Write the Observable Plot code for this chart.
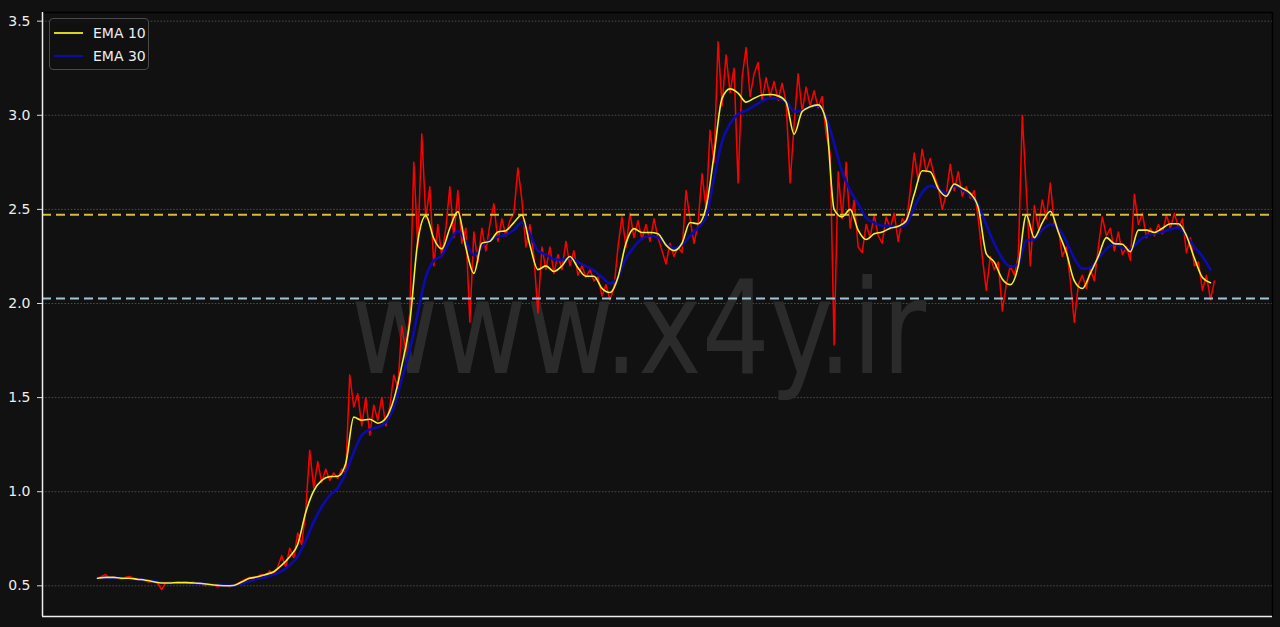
<!DOCTYPE html>
<html>
<head>
<meta charset="utf-8">
<script src="https://cdn.jsdelivr.net/npm/d3@7"></script>
<script src="https://cdn.jsdelivr.net/npm/@observablehq/plot@0.6"></script>
<style>
  html, body { margin: 0; padding: 0; background: #111111; }
  #wrap { position: relative; width: 1280px; height: 627px; overflow: hidden; }
  #legend { position: absolute; left: 49px; top: 18px; width: 100px; height: 52px;
    border: 1px solid #4a4a4a; border-radius: 4px; background: rgba(17,17,17,0.85);
    font-family: "DejaVu Sans", sans-serif; font-size: 14px; color: #eeeeee; box-sizing: border-box; }
  .row { position: absolute; left: 0; height: 20px; display: flex; align-items: center; }
  .sw { display: inline-block; width: 29px; margin-left: 4px; margin-right: 10px; }
</style>
</head>
<body>
<div id="wrap"></div>
<script>
// ---- data ----
// price sampled on an index t = 0..279
const price = [
0.54,0.55,0.56,0.54,0.545,0.54,0.535,0.545,0.55,0.54,
0.53,0.535,0.525,0.52,0.525,0.515,0.48,0.515,0.52,0.515,
0.52,0.515,0.52,0.515,0.52,0.51,0.515,0.50,0.51,0.505,
0.495,0.505,0.5,0.495,0.505,0.51,0.525,0.535,0.545,0.54,
0.55,0.56,0.55,0.58,0.56,0.6,0.66,0.6,0.7,0.65,
0.78,0.72,0.9,1.22,1.02,1.16,1.05,1.12,1.06,1.1,
1.07,1.12,1.1,1.62,1.45,1.52,1.35,1.5,1.3,1.46,
1.38,1.5,1.35,1.45,1.62,1.55,1.88,1.75,1.95,2.75,
2.3,2.9,2.45,2.62,2.2,2.42,2.25,2.4,2.62,2.35,
2.6,2.32,2.4,1.9,2.38,2.22,2.4,2.28,2.42,2.53,
2.33,2.45,2.36,2.44,2.48,2.72,2.55,2.3,2.42,2.25,
1.95,2.3,2.18,2.3,2.16,2.26,2.18,2.33,2.2,2.28,
2.15,2.2,2.14,2.18,2.12,2.14,2.04,2.1,2.02,2.08,
2.3,2.46,2.3,2.48,2.35,2.44,2.34,2.42,2.33,2.45,
2.35,2.28,2.21,2.32,2.25,2.3,2.27,2.6,2.45,2.32,
2.42,2.69,2.5,2.92,2.75,3.39,3.05,3.32,3.12,3.25,
2.64,3.2,3.36,3.1,3.22,3.28,3.08,3.2,3.1,3.18,
3.08,3.17,3.07,2.64,2.95,3.22,3.02,3.15,3.05,3.13,
3.04,3.1,2.9,2.8,1.78,2.7,2.45,2.75,2.4,2.55,
2.3,2.27,2.42,2.35,2.47,2.36,2.32,2.46,2.4,2.48,
2.33,2.45,2.42,2.6,2.8,2.65,2.82,2.7,2.77,2.68,
2.62,2.5,2.58,2.74,2.6,2.7,2.57,2.62,2.56,2.6,
2.45,2.25,2.07,2.25,2.18,2.22,1.96,2.1,2.2,2.15,
2.25,3.0,2.6,2.2,2.52,2.4,2.55,2.45,2.64,2.42,
2.4,2.25,2.3,2.12,1.9,2.1,2.15,2.08,2.18,2.12,
2.3,2.46,2.36,2.4,2.28,2.38,2.26,2.3,2.23,2.58,
2.42,2.48,2.35,2.4,2.36,2.42,2.37,2.47,2.4,2.48,
2.4,2.45,2.27,2.35,2.2,2.22,2.07,2.15,2.02,2.12
];
// EMA series sampled every 2 index steps (t = 0, 2, 4, ...)
const ema10 = [
0.54,0.545,0.545,0.54,0.54,0.535,0.53,0.522,0.515,0.515,
0.517,0.517,0.515,0.512,0.507,0.503,0.5,0.502,0.52,0.54,
0.548,0.56,0.575,0.61,0.655,0.72,0.89,1.005,1.06,1.08,
1.082,1.15,1.396,1.38,1.385,1.364,1.39,1.49,1.67,1.9,
2.33,2.467,2.345,2.29,2.4,2.488,2.297,2.16,2.32,2.33,
2.38,2.387,2.43,2.47,2.31,2.18,2.2,2.17,2.2,2.25,
2.19,2.145,2.145,2.08,2.058,2.138,2.32,2.398,2.377,2.377,
2.37,2.31,2.281,2.32,2.43,2.424,2.51,2.79,3.09,3.14,
3.118,3.07,3.09,3.108,3.11,3.103,3.07,2.9,3.02,3.045,
3.055,2.97,2.5,2.46,2.5,2.39,2.34,2.37,2.38,2.4,
2.41,2.44,2.58,2.705,2.7,2.61,2.57,2.635,2.612,2.585,
2.51,2.265,2.22,2.13,2.1,2.2,2.47,2.35,2.43,2.49,
2.38,2.27,2.12,2.08,2.16,2.25,2.35,2.318,2.315,2.275,
2.39,2.39,2.377,2.4,2.424,2.424,2.36,2.24,2.138,2.11
];
const ema30 = [
0.54,0.542,0.543,0.54,0.538,0.535,0.53,0.525,0.52,0.518,
0.517,0.516,0.514,0.512,0.508,0.505,0.502,0.502,0.51,0.525,
0.537,0.546,0.56,0.578,0.61,0.655,0.74,0.84,0.92,0.98,
1.02,1.1,1.21,1.3,1.33,1.343,1.37,1.449,1.6,1.75,
1.95,2.14,2.228,2.255,2.33,2.385,2.33,2.255,2.3,2.34,
2.355,2.365,2.39,2.43,2.37,2.28,2.26,2.235,2.232,2.243,
2.22,2.198,2.175,2.14,2.106,2.14,2.24,2.3,2.345,2.36,
2.35,2.315,2.295,2.31,2.36,2.403,2.46,2.668,2.86,2.955,
3.005,3.025,3.05,3.076,3.09,3.09,3.075,3.02,3.025,3.045,
3.052,2.99,2.85,2.7,2.6,2.53,2.455,2.43,2.413,2.413,
2.405,2.42,2.51,2.59,2.625,2.61,2.585,2.625,2.605,2.575,
2.52,2.42,2.318,2.24,2.195,2.21,2.334,2.34,2.39,2.42,
2.4,2.33,2.24,2.185,2.19,2.24,2.29,2.318,2.295,2.29,
2.33,2.36,2.372,2.38,2.395,2.403,2.36,2.3,2.25,2.18
];
const levelValues = [2.472, 2.027];
const levelColors = ["#d6bc3c", "#a3c4d6"];
const yTicks = [0.5, 1.0, 1.5, 2.0, 2.5, 3.0, 3.5];
const seriesNames = ["EMA 10", "EMA 30"];
const seriesColors = ["#f4f02a", "#0b0bb0"];
const watermark = "www.x4y.ir";

// ---- tables ----
const priceData = price.map((v, i) => ({t: i, v}));
const ema10Data = ema10.map((v, j) => ({t: 2 * j, v}));
const ema30Data = ema30.map((v, j) => ({t: 2 * j, v}));
const levels = levelValues.map((v, k) => ({v, c: levelColors[k]}));

const xDom = [-13.75, 293.5];
const yDom = [0.337, 3.546];

const chart = Plot.plot({
  width: 1280,
  height: 627,
  marginLeft: 42,
  marginRight: 8,
  marginTop: 12,
  marginBottom: 11,
  style: {background: "#111111", color: "#dddddd", fontFamily: "DejaVu Sans, sans-serif", fontSize: "14px"},
  x: {domain: xDom, axis: null},
  y: {domain: yDom, axis: null},
  marks: [
    Plot.ruleY(yTicks, {stroke: "#5a5a5a", strokeWidth: 0.8, strokeDasharray: "1.6,1.6"}),
    Plot.text([watermark], {frameAnchor: "middle", dx: -19, dy: 17, fontSize: 130, fill: "#2b2b2b", fontFamily: "DejaVu Sans"}),
    Plot.line(priceData, {x: "t", y: "v", stroke: "#ff0000", strokeWidth: 1.5}),
    Plot.ruleY(levels, {y: "v", stroke: "c", strokeWidth: 2, strokeDasharray: "9,5"}),
    Plot.line(ema30Data, {x: "t", y: "v", stroke: seriesColors[1], strokeWidth: 2.6, curve: "monotone-x"}),
    Plot.line(ema10Data, {x: "t", y: "v", stroke: seriesColors[0], strokeWidth: 1.6, curve: "monotone-x"}),
    Plot.ruleY([yDom[1]], {stroke: "#000000", strokeWidth: 1.5}),
    Plot.ruleX([xDom[1]], {stroke: "#000000", strokeWidth: 1.5}),
    Plot.ruleX([xDom[0]], {stroke: "#eeeeee", strokeWidth: 1.5}),
    Plot.ruleY([yDom[0]], {stroke: "#eeeeee", strokeWidth: 1.5}),
    Plot.axisY(yTicks, {tickFormat: d => d.toFixed(1), tickSize: 5, tickPadding: 7, stroke: "#dddddd", fill: "#eeeeee", label: null, fontSize: 14})
  ]
});

// watermark compressed to reference width
d3.select(chart).selectAll("text").filter(function() { return this.textContent === watermark; })
  .attr("textLength", 575).attr("lengthAdjust", "spacingAndGlyphs");

const wrap = document.getElementById("wrap");
wrap.appendChild(chart);

// legend
const legend = document.createElement("div");
legend.id = "legend";
seriesNames.forEach((name, k) => {
  const row = document.createElement("div");
  row.className = "row";
  row.style.top = (4 + k * 23) + "px";
  const sw = document.createElement("span");
  sw.className = "sw";
  sw.style.borderTop = (k === 0 ? 2 : 2.4) + "px solid " + (k === 0 ? "#d8d41c" : seriesColors[k]);
  row.appendChild(sw);
  const lab = document.createElement("span");
  lab.textContent = name;
  row.appendChild(lab);
  legend.appendChild(row);
});
wrap.appendChild(legend);
</script>
</body>
</html>
